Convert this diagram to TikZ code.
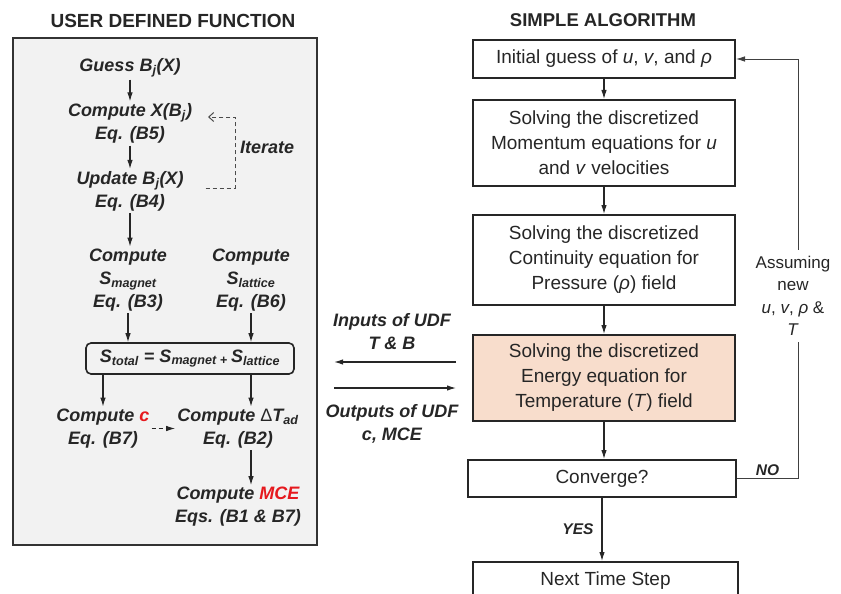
\documentclass[tikz,border=0pt]{standalone}
\usepackage{fontspec}
\setmainfont{Liberation Sans}
\usepackage{xcolor}
\usetikzlibrary{arrows.meta}
\usetikzlibrary{positioning}

\definecolor{peach}{RGB}{248,221,204}
\definecolor{panelgrey}{RGB}{242,242,242}
\definecolor{udfred}{RGB}{230,25,30}

\tikzset{
  stepbox/.style={draw=black!85, line width=2pt, minimum width=262pt, align=center,
    font=\fontsize{19}{25}\selectfont, text=black!85, inner sep=2pt},
  udftext/.style={align=center, font=\fontsize{18}{23}\selectfont\bfseries\itshape,
    text=black!85, inner sep=2pt},
  arr/.style={-{Latex[length=9pt,width=5.5pt]}, line width=1.1pt, draw=black!85},
}

\begin{document}
\begin{tikzpicture}[x=1pt, y=-1pt]
			\useasboundingbox (0,0) rectangle (841,594);
			
			% user defined function
			\node[font=\fontsize{19}{23}\selectfont\bfseries, text=black!85] (udftitle) at (173,21) {USER DEFINED FUNCTION};
			\node[draw=black!80, line width=2.2pt, fill=panelgrey, minimum width=304pt, minimum height=507pt, inner sep=0pt] (udf) at (165,291.5) {};
			
			\node[udftext] (guess) at (130,68) {Guess B\textsubscript{j}(X)};
			\node[udftext] (cx) at (130,123.5) {Compute X(B\textsubscript{j})\\Eq. (B5)};
			\node[udftext] (upd) at (130,191) {Update B\textsubscript{j}(X)\\Eq. (B4)};
			\node[udftext] (smag) at (128,280) {Compute\\S\textsubscript{magnet}\\Eq. (B3)};
			\node[udftext] (slat) at (251,280) {Compute\\S\textsubscript{lattice}\\Eq. (B6)};
			\node[udftext, draw=black!85, line width=1.6pt, rounded corners=5pt, fill=panelgrey, minimum width=208pt, minimum height=31pt] (stot) at (190,358.5) {S\textsubscript{total} = S\textsubscript{magnet + }S\textsubscript{lattice}};
			\node[udftext] (cc) at (103,428.5) {Compute {\color{udfred}c}\\Eq. (B7)};
			\node[udftext] (dT) at (238,428.5) {Compute {\mdseries\upshape Δ}T\textsubscript{ad}\\Eq. (B2)};
			\node[udftext] (mce) at (238,507) {Compute {\color{udfred}MCE}\\Eqs. (B1 \& B7)};
			\node[udftext, right] (iter) at (238,147) {Iterate};
			\coordinate (iterturn) at (235,117);
			
			\draw[arr] (guess) -- (cx);
			\draw[arr] (cx) -- (upd);
			\draw[arr] (upd.south) -- (upd.south |- smag.north);
			\foreach \s in {smag, slat}
				\draw[arr] (\s.south) -- (\s.south |- stot.north);
			\draw[arr] (stot.south -| cc) -- (cc.north);
			\draw[arr] (stot.south -| slat) -- (slat |- dT.north);
			\draw[arr] (dT.south -| slat) -- (slat |- mce.north);
			\draw[arr, dash pattern=on 4pt off 3pt] (cc.east) -- (dT.west);
			\draw[line width=1pt, black!70, dash pattern=on 4pt off 3pt, -{Straight Barb[length=5pt,width=9pt]}] (upd.east) ++(20,-3) -| (iterturn) -- ++(-27,0);
			
			% simple algorithm
			\node[font=\fontsize{18.5}{22}\selectfont\bfseries, text=black!85] (simpletitle) at (603,20) {SIMPLE ALGORITHM};
			\node[stepbox, minimum height=38pt] (init) at (604,59) {Initial guess of \textit{u}, \textit{v}, and \textit{ρ}};
			\node[stepbox, minimum height=86pt] (momentum) at (604,143) {Solving the discretized\\Momentum equations for \textit{u}\\and \textit{v} velocities};
			\node[stepbox, minimum height=90pt] (continuity) at (604,260) {Solving the discretized\\Continuity equation for\\Pressure (\textit{ρ}) field};
			\node[stepbox, minimum height=86pt, fill=peach] (energy) at (604,378) {Solving the discretized\\Energy equation for\\Temperature (\textit{T}) field};
			\node[stepbox, minimum width=268pt, minimum height=37pt] (converge) at (602,478.5) {Converge?};
			\node[stepbox, minimum width=265pt, minimum height=38pt] (nextstep) at (605.5,581) {Next Time Step};
			\coordinate (loop) at (798,59);
			
			\foreach \a/\b in {init/momentum, momentum/continuity, continuity/energy, energy/converge}
				\draw[arr] (\a.south) -- (\a.south |- \b.north);
			\draw[arr] (converge.south) -- (converge.south |- nextstep.north) node[midway, left=6pt, udftext, font=\fontsize{15.5}{18}\selectfont\bfseries\itshape] (yes) {YES};
			\draw[arr, line width=0.8pt, draw=black!75] (converge.east) -| node[pos=0.25, above, udftext, font=\fontsize{15.5}{18}\selectfont\bfseries\itshape] (no) {NO} (loop) -- (init.east);
			\node[fill=white, align=center, font=\fontsize{17}{22.5}\selectfont, text=black!85, inner sep=6pt] (assume) at (793,296) {Assuming\\new\\\textit{u}, \textit{v}, \textit{ρ} \&\\\textit{T}};
			
			% udf coupling
			\path ([yshift=16pt]energy.west) coordinate (inR) ([yshift=-10pt]energy.west) coordinate (outR);
			\draw[arr, shorten >=16pt, shorten <=16pt] (inR) -- (inR -| udf.east);
			\draw[arr, shorten >=16pt, shorten <=16pt] (outR -| udf.east) -- (outR);
			\node[udftext] (inlbl) at (392,331.5) {Inputs of UDF\\T \& B};
			\node[udftext] (outlbl) at (392,423.5) {Outputs of UDF\\c, MCE};
			
		\end{tikzpicture}
\end{document}
